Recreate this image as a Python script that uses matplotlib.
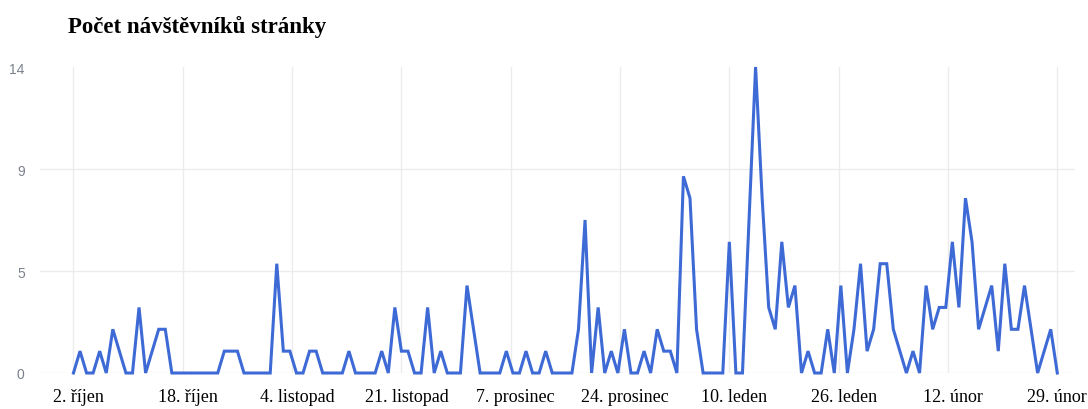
import matplotlib.pyplot as plt
import matplotlib.transforms as mtransforms
import numpy as np

# daily visitor counts, 2 Oct - 29 Feb
visitors = [
    0, 1, 0, 0, 1, 0, 2, 1, 0, 0,
    3, 0, 1, 2, 2, 0, 0, 0, 0, 0,
    0, 0, 0, 1, 1, 1, 0, 0, 0, 0,
    0, 5, 1, 1, 0, 0, 1, 1, 0, 0,
    0, 0, 1, 0, 0, 0, 0, 1, 0, 3,
    1, 1, 0, 0, 3, 0, 1, 0, 0, 0,
    4, 2, 0, 0, 0, 0, 1, 0, 0, 1,
    0, 0, 1, 0, 0, 0, 0, 2, 7, 0,
    3, 0, 1, 0, 2, 0, 0, 1, 0, 2,
    1, 1, 0, 9, 8, 2, 0, 0, 0, 0,
    6, 0, 0, 7, 14, 8, 3, 2, 6, 3,
    4, 0, 1, 0, 0, 2, 0, 4, 0, 2,
    5, 1, 2, 5, 5, 2, 1, 0, 1, 0,
    4, 2, 3, 3, 6, 3, 8, 6, 2, 3,
    4, 1, 5, 2, 2, 4, 2, 0, 1, 2,
    0,
]
date_labels = ['2. říjen', '18. říjen', '4. listopad', '21. listopad', '7. prosinec',
               '24. prosinec', '10. leden', '26. leden', '12. únor', '29. únor']
y_labels = ['0', '5', '9', '14']

days = np.arange(len(visitors))
ymax = max(visitors)

fig = plt.figure(figsize=(10.88, 4.10), dpi=100)
ax = fig.add_axes([40 / 1088, 1 - 374 / 410, 1035 / 1088, 306 / 410])

ax.plot(days, visitors, color='#3e6ad6', lw=2.2, solid_joinstyle='miter',
        clip_on=False, zorder=3)

ax.set_xlim(-5.1, 152.7)
ax.set_ylim(0, ymax)

xt = np.linspace(0, days[-1], len(date_labels))
yt = np.linspace(0, ymax, len(y_labels))
ax.set_xticks(xt)
ax.set_xticklabels(date_labels, family='Liberation Serif', fontsize=13, color='black')
ax.set_yticks(yt)
ax.set_yticklabels(y_labels, family='Liberation Sans', fontsize=10, color='#7b818c')
ax.tick_params(length=0)
ax.tick_params(axis='x', pad=11)
ax.tick_params(axis='y', pad=11)

# date labels sit a little right of their gridlines, the last one stays inside
shift = mtransforms.ScaledTranslation(5 / 100, 0, fig.dpi_scale_trans)
for lbl in ax.get_xticklabels()[:-1]:
    lbl.set_transform(lbl.get_transform() + shift)

# light grid, no frame
for v in xt:
    ax.axvline(v, color='#ececec', lw=1, zorder=1)
for v in yt[:-1]:
    ax.axhline(v, color='#ececec', lw=1, zorder=1)
for s in ax.spines.values():
    s.set_visible(False)

fig.text(68 / 1088, 1 - 27 / 410, 'Počet návštěvníků stránky', family='Liberation Serif',
         fontweight='bold', fontsize=16.5, va='center', ha='left')

fig.savefig('out.png', dpi=100)
